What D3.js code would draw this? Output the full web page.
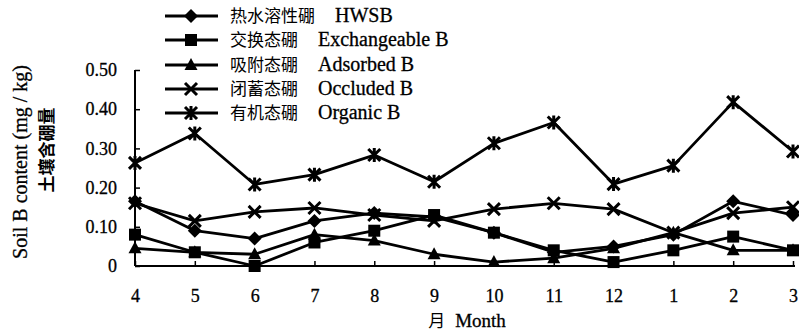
<!DOCTYPE html>
<html><head><meta charset="utf-8">
<script src="https://cdn.jsdelivr.net/npm/d3@7"></script>
<style>body{margin:0;background:#fff}svg{display:block}</style>
</head><body>
<svg id="c" width="799" height="332"></svg>
<script>
const months = ["4","5","6","7","8","9","10","11","12","1","2","3"];
const yTicks = [0, 0.10, 0.20, 0.30, 0.40, 0.50];
const hwsb = [0.165, 0.09, 0.07, 0.115, 0.135, 0.125, 0.085, 0.035, 0.05, 0.08, 0.165, 0.13];
const exchangeable = [0.08, 0.035, 0.0, 0.06, 0.09, 0.13, 0.085, 0.04, 0.01, 0.04, 0.075, 0.04];
const adsorbed = [0.045, 0.035, 0.03, 0.08, 0.065, 0.03, 0.01, 0.02, 0.045, 0.085, 0.04, 0.04];
const occluded = [0.16, 0.115, 0.138, 0.148, 0.13, 0.115, 0.145, 0.16, 0.145, 0.085, 0.135, 0.15];
const organic = [0.263, 0.338, 0.208, 0.233, 0.283, 0.215, 0.313, 0.366, 0.209, 0.256, 0.418, 0.292];
const seriesNames = [["热水溶性硼","HWSB"],["交换态硼","Exchangeable B"],["吸附态硼","Adsorbed B"],["闭蓄态硼","Occluded B"],["有机态硼","Organic B"]];
const seriesData = [hwsb, exchangeable, adsorbed, occluded, organic];
const markers = ["diamond","square","triangle","x","asterisk"];

const svg = d3.select("#c");
const serif = "'Liberation Serif','Times New Roman',serif";
const cjk = "'Noto Sans CJK SC',sans-serif";
const x = d3.scalePoint().domain(months).range([135, 793]);
const y = d3.scaleLinear().domain([0, 0.5]).range([266, 70]);

function marker(g, type, cx, cy){
  if(type==="diamond"){
    g.append("path").attr("d",`M${cx},${cy-7}L${cx+7},${cy}L${cx},${cy+7}L${cx-7},${cy}Z`).attr("fill","#000");
  } else if(type==="square"){
    g.append("rect").attr("x",cx-6).attr("y",cy-6).attr("width",12).attr("height",12).attr("fill","#000");
  } else if(type==="triangle"){
    g.append("path").attr("d",`M${cx},${cy-7}L${cx+6.5},${cy+5}L${cx-6.5},${cy+5}Z`).attr("fill","#000");
  } else if(type==="x"){
    g.append("path").attr("d",`M${cx-6},${cy-6}L${cx+6},${cy+6}M${cx+6},${cy-6}L${cx-6},${cy+6}`).attr("stroke","#000").attr("stroke-width",3).attr("fill","none");
  } else {
    g.append("path").attr("d",`M${cx-6},${cy-6}L${cx+6},${cy+6}M${cx+6},${cy-6}L${cx-6},${cy+6}M${cx},${cy-7}L${cx},${cy+7}`).attr("stroke","#000").attr("stroke-width",3).attr("fill","none");
  }
}

// axes
const yAxis = d3.axisLeft(y).tickValues(yTicks).tickSize(-5).tickPadding(18)
  .tickFormat(d => d===0 ? "0" : d3.format(".2f")(d));
const gy = svg.append("g").attr("transform","translate(135,0)").call(yAxis);
gy.select(".domain").attr("d","M0,70V266").attr("stroke-width",2);
gy.selectAll(".tick line").attr("stroke-width",1.5);
gy.selectAll("text").attr("font-family",serif).attr("font-size",18).attr("fill","#000")
  .attr("stroke","#000").attr("stroke-width",0.3);

const xAxis = d3.axisBottom(x).tickSize(-5).tickPadding(23);
const gx = svg.append("g").attr("transform","translate(0,266)").call(xAxis);
gx.select(".domain").attr("d","M135,0H795").attr("stroke-width",2);
gx.selectAll(".tick line").attr("stroke-width",1.5);
gx.selectAll("text").attr("font-family",serif).attr("font-size",18).attr("fill","#000")
  .attr("stroke","#000").attr("stroke-width",0.3);

// lines
const line = d3.line().x((d,i)=>x(months[i])).y(d=>y(d));
seriesData.forEach((arr, si) => {
  svg.append("path").datum(arr).attr("d", line).attr("fill","none").attr("stroke","#000").attr("stroke-width",2.8).attr("stroke-linejoin","round");
  const g = svg.append("g");
  arr.forEach((v,i)=>marker(g, markers[si], x(months[i]), y(v)));
});

// legend
const legY = [16, 40, 65, 89, 113];
seriesNames.forEach((n, i) => {
  const g = svg.append("g");
  g.append("line").attr("x1",165).attr("x2",218).attr("y1",legY[i]).attr("y2",legY[i]).attr("stroke","#000").attr("stroke-width",2.8);
  marker(g, markers[i], 191, legY[i]);
  const t = g.append("text").attr("x",230).attr("y",legY[i]+6).attr("font-size",17).attr("fill","#000");
  t.append("tspan").attr("font-family",cjk).text(n[0]);
  t.append("tspan").attr("font-family",serif).attr("font-size",20).attr("dx",20)
    .attr("stroke","#000").attr("stroke-width",0.3).text(n[1]);
});

// axis titles
svg.append("text").attr("transform","translate(27,162) rotate(-90)").attr("text-anchor","middle")
  .attr("font-family",serif).attr("font-size",20).attr("stroke","#000").attr("stroke-width",0.3)
  .text("Soil B content (mg / kg)");
svg.append("text").attr("transform","translate(53,150) rotate(-90)").attr("text-anchor","middle")
  .attr("font-family",cjk).attr("font-weight","bold").attr("font-size",17).text("土壤含硼量");
const xt = svg.append("text").attr("x",467).attr("y",327).attr("text-anchor","middle").attr("font-size",17);
xt.append("tspan").attr("font-family",cjk).text("月");
xt.append("tspan").attr("font-family",serif).attr("font-size",19).attr("dx",10)
  .attr("stroke","#000").attr("stroke-width",0.3).text("Month");
</script>
</body></html>
